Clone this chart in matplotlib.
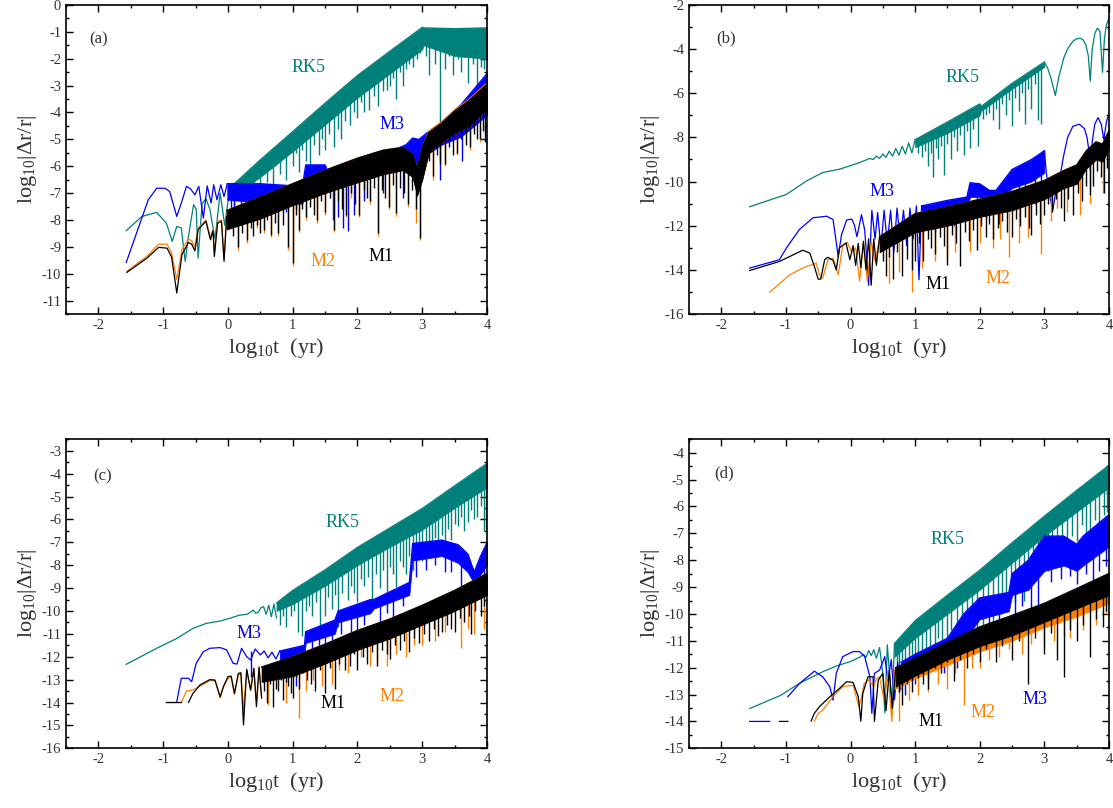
import numpy as np
import matplotlib
matplotlib.use("Agg")
import matplotlib.pyplot as plt
from matplotlib.ticker import MultipleLocator

plt.rcParams['font.family'] = ['Liberation Serif', 'DejaVu Serif']
plt.rcParams['mathtext.fontset'] = 'custom'
plt.rcParams['mathtext.rm'] = 'Liberation Serif'
plt.rcParams['axes.unicode_minus'] = False

nan = float('nan')
TEAL = '#00807a'
BLUE = '#0000ff'
ORANGE = '#ff8000'
BLACK = '#000000'

# ---------------- panel (a) ----------------
a_rk5_x = [-1.57, -1.33, -1.10, -0.95, -0.86, -0.79, -0.72, -0.66, -0.61, -0.53, -0.49, -0.46, -0.40, -0.34, -0.28, -0.20, -0.12, -0.05, 0.03]
a_rk5_y = [-8.40, -7.87, -7.72, -8.12, -8.80, -8.24, -8.30, -9.54, -8.61, -7.43, -7.60, -9.42, -7.40, -7.20, -7.60, -8.70, -7.00, -8.20, -6.80]
a_rk5_bx = [0.03, 0.5, 1.0, 1.5, 2.0, 2.5, 3.0, 3.02, 3.5, 4.0]
a_rk5_top = [-6.80, -5.76, -4.71, -3.65, -2.62, -1.72, -0.83, -0.85, -0.88, -0.85]
a_rk5_bot = [-7.20, -6.40, -5.45, -4.45, -3.45, -2.55, -1.65, -1.50, -1.90, -2.00]
a_rk5_sx = [0.1, 0.2, 0.3, 0.4, 0.5, 0.6, 0.7, 0.8, 0.9, 1.0, 1.05, 1.1, 1.15, 1.2, 1.27, 1.33, 1.4, 1.45, 1.5, 1.56,
            1.63, 1.7, 1.75, 1.8, 1.88, 1.95, 2.0, 2.05, 2.1, 2.18, 2.25, 2.32, 2.4, 2.45, 2.5, 2.55, 2.6, 2.66, 2.7, 2.75,
            2.8, 2.86, 2.92, 2.97, 3.05, 3.1, 3.15, 3.2, 3.28, 3.35, 3.42, 3.48, 3.55, 3.6, 3.65, 3.7, 3.78, 3.85, 3.9, 3.95]
a_rk5_sy = [-7.6, -7.3, -7.6, -7.0, -6.9, -6.6, -6.8, -6.3, -6.5, -6.0, -5.5, -6.2, -5.4, -5.8, -6.13, -5.2, -5.6, -5.0, -5.4, -4.8,
            -5.3, -4.6, -5.0, -4.3, -4.46, -4.0, -4.2, -3.6, -4.0, -3.9, -3.4, -3.75, -3.2, -3.16, -3.0, -2.7, -3.5, -2.5, -3.0, -2.4,
            -2.2, -2.3, -2.0, -1.8, -1.9, -2.6, -1.6, -2.2, -4.77, -2.4, -1.9, -2.6, -2.0, -2.5, -1.8, -2.9, -2.2, -3.1, -2.3, -2.4]

a_m3_x = [-1.57, -1.23, -1.10, -0.97, -0.90, -0.79, -0.72, -0.64, -0.58, -0.51, -0.45, -0.38, -0.32, -0.26, -0.22, -0.17, -0.11, -0.06, -0.01]
a_m3_y = [-9.58, -7.25, -6.82, -6.82, -6.94, -7.87, -7.37, -6.75, -6.84, -7.06, -6.75, -7.93, -6.73, -7.37, -6.69, -7.25, -6.69, -7.13, -6.65]
a_m3_bx = [-0.01, 0.5, 1.15, 1.2, 1.5, 1.55, 2.0, 2.5, 2.75, 2.85, 2.95, 3.05, 3.3, 3.6, 4.0]
a_m3_top = [-6.65, -6.65, -6.75, -5.95, -5.95, -6.3, -5.85, -5.45, -5.2, -4.95, -5.0, -4.8, -4.35, -3.7, -2.55]
a_m3_bot = [-7.25, -7.35, -7.4, -6.6, -6.6, -6.9, -6.6, -6.2, -6.0, -6.0, -6.4, -5.6, -5.2, -4.9, -4.1]
a_m3_sx = [0.05, 0.1, 0.2, 0.3, 0.45, 0.6, 0.75, 0.9, 1.05, 1.62, 1.7, 1.78, 1.86, 1.95, 2.1, 2.4, 2.7, 2.9, 3.28, 3.62, 4.0]
a_m3_sy = [-7.9, -7.6, -7.7, -7.8, -7.5, -7.6, -7.5, -7.7, -7.6, -8.0, -7.9, -8.3, -8.4, -7.8, -7.3, -7.0, -7.2, -6.8, -6.5, -5.8, -6.0]

a_m2_x = [-1.56, -1.25, -1.07, -0.94, -0.87, -0.79, -0.71, -0.61, -0.56, -0.51, -0.46, -0.34, -0.27, -0.23, -0.21, -0.16, -0.10, -0.06, -0.02]
a_m2_y = [-9.91, -9.35, -8.90, -8.90, -9.23, -10.22, -9.10, -8.70, -8.78, -9.00, -8.30, -8.00, -8.65, -8.35, -9.25, -8.05, -8.00, -9.45, -7.85]
a_m2_bx = [-0.02, 0.5, 1.0, 1.5, 2.0, 2.4, 2.7, 2.85, 2.92, 3.0, 3.1, 3.3, 3.5, 3.7, 4.0]
a_m2_top = [-7.65, -7.15, -6.65, -6.15, -5.70, -5.40, -5.30, -5.55, -6.10, -5.30, -4.70, -4.35, -3.90, -3.55, -2.90]
a_m2_bot = [-8.35, -7.95, -7.45, -7.00, -6.60, -6.30, -6.15, -6.40, -7.10, -6.50, -5.50, -5.10, -4.75, -4.55, -3.85]
a_m2_sx = [0.15, 0.29, 0.45, 0.55, 0.67, 0.78, 0.93, 1.0, 1.09, 1.2, 1.37, 1.5, 1.64, 1.83, 1.9, 2.03, 2.2, 2.31, 2.48, 2.6, 2.78, 2.9, 2.96, 3.17, 3.35, 3.53, 3.74, 3.89]
a_m2_sy = [-9.1, -8.85, -8.3, -8.5, -8.65, -8.6, -9.1, -9.7, -8.45, -8.0, -8.1, -7.8, -8.45, -7.9, -7.2, -7.9, -7.4, -8.6, -7.6, -7.85, -7.5, -8.1, -8.75, -6.5, -6.0, -5.6, -5.4, -5.1]

a_m1_x = [-1.56, -1.25, -1.07, -0.94, -0.87, -0.79, -0.71, -0.61, -0.56, -0.51, -0.46, -0.34, -0.27, -0.23, -0.21, -0.16, -0.10, -0.06, -0.02]
a_m1_y = [-9.95, -9.42, -9.02, -9.05, -9.38, -10.72, -9.29, -8.84, -8.90, -9.15, -8.36, -8.05, -8.74, -8.40, -9.36, -8.12, -8.05, -9.54, -7.87]
a_m1_bx = [-0.02, 0.5, 1.0, 1.5, 2.0, 2.4, 2.7, 2.85, 2.92, 3.0, 3.1, 3.3, 3.5, 3.7, 4.0]
a_m1_top = [-7.65, -7.15, -6.65, -6.15, -5.70, -5.40, -5.30, -5.55, -6.10, -5.30, -4.75, -4.40, -3.95, -3.60, -2.95]
a_m1_bot = [-8.35, -7.95, -7.45, -7.00, -6.60, -6.30, -6.15, -6.40, -7.10, -6.50, -5.50, -5.10, -4.75, -4.55, -3.85]
a_m1_sx = [0.08, 0.15, 0.22, 0.29, 0.35, 0.39, 0.45, 0.5, 0.55, 0.61, 0.67, 0.72, 0.78, 0.85, 0.93, 1.0, 1.05, 1.09, 1.15, 1.2,
           1.27, 1.33, 1.37, 1.44, 1.5, 1.57, 1.64, 1.7, 1.76, 1.83, 1.9, 1.96, 2.03, 2.1, 2.15, 2.2, 2.26, 2.31, 2.38, 2.43,
           2.48, 2.55, 2.6, 2.66, 2.72, 2.78, 2.84, 2.9, 2.96, 3.03, 3.1, 3.17, 3.22, 3.28, 3.35, 3.42, 3.48, 3.53, 3.6, 3.67,
           3.74, 3.8, 3.85, 3.89, 3.94, 3.97]
a_m1_sy = [-8.6, -9.0, -8.5, -8.74, -8.3, -8.6, -8.2, -8.5, -8.37, -8.0, -8.55, -8.1, -8.5, -8.2, -9.0, -9.6, -7.8, -8.36, -7.6, -7.9,
           -7.5, -7.8, -8.0, -7.3, -7.7, -7.2, -8.36, -7.3, -7.6, -7.8, -7.0, -7.4, -7.8, -6.9, -7.2, -7.3, -6.8, -8.49, -6.9, -7.2,
           -7.5, -6.7, -7.75, -6.8, -7.0, -7.4, -6.9, -7.6, -8.67, -6.0, -5.8, -6.38, -5.6, -5.9, -5.9, -5.3, -5.6, -5.5, -5.0, -5.2,
           -5.3, -4.8, -5.0, -5.0, -4.7, -5.1]

# ---------------- panel (b) ----------------
b_rk5_x = [-1.56, -0.99, -0.68, -0.43, -0.17, 0.14, 0.30, 0.35, 0.40, 0.45, 0.50, 0.55, 0.60, 0.65, 0.70, 0.75, 0.80, 0.85, 0.90, 0.95, 1.0,
           nan, 3.0, 3.05, 3.1, 3.17, 3.22, 3.3, 3.35, 3.4, 3.45, 3.5, 3.55, 3.6, 3.64, 3.68, 3.71, 3.74, 3.78, 3.82, 3.86, 3.9, 3.93, 3.96, 4.0]
b_rk5_y = [-11.14, -10.58, -9.97, -9.59, -9.44, -9.14, -8.95, -9.0, -8.85, -8.95, -8.75, -8.9, -8.62, -8.85, -8.5, -8.8, -8.4, -8.75, -8.25, -8.7, -8.1,
           nan, -4.6, -4.85, -5.3, -6.1, -5.3, -4.4, -4.05, -3.8, -3.62, -3.53, -3.5, -3.58, -3.8, -4.3, -5.45, -4.0, -3.3, -3.05, -3.2, -5.05, -3.5, -2.9, -2.6]
b_rk5_bx = [1.0, 1.5, 2.0, 2.02, 2.5, 3.0]
b_rk5_top = [-8.1, -7.3, -6.48, -6.6, -5.55, -4.58]
b_rk5_bot = [-8.45, -7.8, -7.0, -6.8, -5.8, -4.8]
b_rk5_sx = [1.05, 1.1, 1.15, 1.2, 1.24, 1.28, 1.32, 1.35, 1.4, 1.45, 1.5, 1.55, 1.6, 1.65, 1.7, 1.75, 1.8, 1.85, 1.9, 1.97,
            2.05, 2.1, 2.15, 2.2, 2.25, 2.3, 2.35, 2.4, 2.45, 2.5, 2.55, 2.6, 2.65, 2.7, 2.75, 2.8, 2.85, 2.9, 2.95]
b_rk5_sy = [-8.7, -8.9, -8.6, -9.3, -8.7, -9.8, -8.5, -9.0, -8.4, -9.7, -8.3, -9.0, -8.0, -8.6, -7.9, -8.8, -7.7, -8.5, -7.6, -8.4,
            -7.16, -7.0, -6.9, -7.2, -6.7, -7.62, -6.5, -7.0, -6.3, -7.47, -6.2, -6.8, -6.0, -7.39, -5.8, -6.7, -5.6, -7.2, -7.4]

b_m3_x = [-1.56, -1.10, -0.99, -0.79, -0.58, -0.37, -0.27, -0.24, -0.19, -0.14, -0.06, 0.02, 0.06, 0.10, 0.17, 0.22, 0.28, 0.33, 0.38, 0.42, 0.47, 0.52,
          0.57, 0.62, 0.67, 0.72, 0.77, 0.82, 0.87, 0.92, 0.97, 1.02, 1.06, 1.1,
          nan, 3.0, 3.03, 3.08, 3.13, 3.18, 3.24, 3.30, 3.36, 3.44, 3.54, 3.62, 3.66, 3.69, 3.71, 3.74, 3.78, 3.83, 3.88, 3.92, 3.96, 4.0]
b_m3_y = [-13.92, -13.54, -13.0, -12.17, -11.64, -11.57, -11.72, -12.34, -13.4, -12.42, -11.74, -11.7, -11.97, -12.5, -11.5, -12.2, -14.7, -11.3, -12.6, -11.4, -13.0, -11.3,
          -12.8, -11.3, -13.2, -11.2, -12.7, -11.3, -12.9, -11.2, -12.6, -11.1, -14.45, -11.1,
          nan, -8.6, -9.6, -10.6, -11.3, -10.4, -9.8, -8.8, -8.0, -7.5, -7.4, -7.6, -8.0, -8.6, -9.5, -8.2, -7.4, -7.1, -7.4, -8.1, -7.3, -6.9]
b_m3_bx = [1.1, 1.5, 1.8, 1.85, 2.0, 2.15, 2.25, 2.5, 2.8, 3.0]
b_m3_top = [-11.1, -10.85, -10.7, -10.05, -10.1, -10.4, -10.4, -9.45, -9.0, -8.6]
b_m3_bot = [-11.6, -11.4, -11.2, -10.7, -10.7, -11.0, -11.0, -10.3, -10.0, -9.6]
b_m3_sx = [1.15, 1.3, 1.4, 1.6, 1.7, 1.95, 2.1, 2.3, 2.4, 2.6, 2.7, 2.85, 2.95]
b_m3_sy = [-12.0, -12.3, -11.9, -12.0, -11.8, -11.5, -11.6, -11.9, -11.2, -11.3, -10.8, -11.0, -10.6]

b_m2_x = [-1.25, -0.94, -0.68, -0.53, -0.48, -0.43, -0.35, -0.27, -0.19, -0.12, -0.05, 0.02, 0.08, 0.14, 0.20, 0.26, 0.32, 0.38, 0.45]
b_m2_y = [-15.01, -14.22, -13.84, -13.70, -14.22, -14.37, -13.55, -13.47, -14.22, -12.9, -12.75, -13.2, -13.0, -14.5, -12.8, -14.5, -12.7, -13.6, -12.6]
b_m2_bx = [0.45, 1.0, 1.5, 2.0, 2.5, 3.0, 3.3, 3.5, 3.65, 3.8, 3.9, 4.0]
b_m2_top = [-12.5, -11.45, -11.15, -10.8, -10.45, -9.95, -9.5, -9.25, -8.6, -8.2, -8.3, -7.7]
b_m2_bot = [-13.2, -12.3, -12.0, -11.6, -11.3, -10.8, -10.3, -10.1, -9.4, -9.0, -9.1, -8.5]
b_m2_sx = [0.6, 0.75, 0.95, 1.1, 1.3, 1.5, 1.62, 1.85, 2.0, 2.2, 2.32, 2.45, 2.6, 2.75, 2.95, 3.1, 3.2, 3.35, 3.55, 3.7, 3.9]
b_m2_sy = [-14.6, -14.1, -15.0, -13.9, -13.6, -13.5, -13.2, -13.2, -12.8, -13.0, -12.6, -13.4, -12.8, -12.5, -13.3, -11.8, -11.2, -11.4, -11.5, -11.0, -10.5]

b_m1_x = [-1.56, -1.10, -0.74, -0.63, -0.56, -0.50, -0.46, -0.40, -0.35, -0.27, -0.22, -0.17, -0.07, -0.01, 0.04, 0.08, 0.12, 0.16, 0.20, 0.24, 0.28, 0.32, 0.36, 0.40, 0.45]
b_m1_y = [-14.03, -13.62, -13.11, -13.24, -13.84, -14.42, -14.42, -13.54, -13.43, -13.57, -14.0, -13.0, -12.78, -13.54, -12.9, -13.8, -12.8, -13.9, -12.7, -14.0, -12.6, -14.7, -12.6, -13.8, -12.5]
b_m1_bx = [0.45, 1.0, 1.5, 2.0, 2.5, 3.0, 3.3, 3.5, 3.65, 3.8, 3.9, 4.0]
b_m1_top = [-12.5, -11.45, -11.15, -10.8, -10.45, -9.95, -9.5, -9.25, -8.6, -8.2, -8.3, -7.7]
b_m1_bot = [-13.2, -12.3, -12.0, -11.6, -11.3, -10.8, -10.3, -10.1, -9.4, -9.0, -9.1, -8.5]
b_m1_sx = [0.5, 0.55, 0.6, 0.65, 0.72, 0.8, 0.88, 0.95, 1.0, 1.06, 1.12, 1.2, 1.25, 1.3, 1.38, 1.45, 1.5, 1.57, 1.63, 1.7,
           1.77, 1.83, 1.9, 1.95, 2.02, 2.1, 2.15, 2.2, 2.28, 2.35, 2.42, 2.5, 2.56, 2.63, 2.7, 2.76, 2.8, 2.87, 2.93, 3.0,
           3.06, 3.12, 3.18, 3.25, 3.3, 3.37, 3.45, 3.52, 3.58, 3.65, 3.7, 3.75, 3.82, 3.88, 3.92, 3.97]
b_m1_sy = [-13.6, -14.3, -13.4, -14.4, -13.2, -14.3, -13.5, -14.0, -13.6, -12.8, -13.6, -12.6, -13.0, -13.3, -12.5, -12.9, -13.8, -12.4, -12.8, -13.84,
           -12.3, -12.7, -12.2, -13.1, -12.0, -12.5, -11.9, -12.6, -12.1, -11.8, -12.3, -12.5, -11.7, -12.0, -11.6, -12.1, -12.4, -11.5, -11.9, -11.5,
           -11.0, -11.4, -10.8, -11.2, -11.8, -10.8, -11.5, -10.5, -10.9, -10.2, -10.6, -10.2, -9.5, -9.8, -10.5, -9.4]

# ---------------- panel (c) ----------------
c_rk5_x = [-1.57, -1.10, -0.79, -0.54, -0.33, -0.12, 0.03, 0.18, 0.29, 0.35, 0.39, 0.43, 0.47, 0.51, 0.55, 0.59, 0.63, 0.67, 0.71, 0.75]
c_rk5_y = [-12.33, -11.63, -11.20, -10.76, -10.54, -10.44, -10.32, -10.18, -10.15, -10.05, -9.96, -10.1, -10.05, -9.85, -9.81, -10.15, -9.75, -10.25, -9.7, -10.3]
c_rk5_bx = [0.75, 1.0, 1.5, 2.0, 2.5, 3.0, 3.5, 4.0]
c_rk5_top = [-9.65, -9.1, -8.2, -7.22, -6.37, -5.52, -4.53, -3.55]
c_rk5_bot = [-10.0, -9.7, -8.9, -8.0, -7.2, -6.45, -5.5, -4.6]
c_rk5_sx = [0.8, 0.85, 0.9, 0.97, 1.02, 1.08, 1.15, 1.2, 1.25, 1.3, 1.36, 1.42, 1.5, 1.55, 1.6, 1.66, 1.7, 1.76, 1.85, 1.9,
            1.95, 2.0, 2.05, 2.1, 2.16, 2.22, 2.28, 2.35, 2.4, 2.45, 2.5, 2.55, 2.6, 2.66, 2.7, 2.75, 2.8, 2.85, 2.9, 2.95,
            3.0, 3.05, 3.1, 3.15, 3.2, 3.25, 3.3, 3.35, 3.4, 3.45, 3.5, 3.55, 3.6, 3.65, 3.7, 3.75, 3.8, 3.85, 3.9, 3.95, 3.99]
c_rk5_sy = [-10.6, -10.2, -10.7, -10.2, -10.0, -10.9, -11.1, -10.0, -9.8, -10.2, -9.6, -10.6, -10.2, -9.4, -9.9, -9.3, -10.7, -9.2, -9.5, -8.9,
            -9.2, -9.6, -8.6, -8.9, -8.5, -9.96, -8.4, -9.0, -8.2, -9.5, -8.1, -8.4, -8.94, -7.8, -8.1, -8.4, -7.6, -8.2, -7.4, -7.7,
            -7.8, -7.0, -7.05, -7.3, -6.8, -7.4, -6.7, -7.2, -6.4, -6.9, -6.2, -6.3, -5.9, -6.5, -6.1, -5.6, -6.0, -5.9, -5.4, -6.5, -6.4]

c_m3_x = [-0.79, -0.72, -0.61, -0.56, -0.49, -0.38, -0.28, -0.12, -0.02, 0.08, 0.14, 0.21, 0.29, 0.35, 0.42, 0.50, 0.56, 0.62, 0.68, 0.74, 0.80]
c_m3_y = [-13.96, -12.94, -12.94, -13.09, -12.29, -11.78, -11.63, -11.60, -11.70, -12.29, -12.32, -11.63, -12.0, -12.14, -11.66, -11.92, -11.75, -12.05, -11.8, -12.1, -11.75]
c_m3_bx = [0.8, 1.18, 1.2, 1.65, 1.7, 2.2, 2.25, 2.8, 2.85, 3.3, 3.55, 3.7, 3.8, 3.9, 4.0]
c_m3_top = [-11.75, -11.5, -10.9, -10.4, -10.0, -9.5, -9.5, -8.75, -7.05, -6.9, -7.1, -7.5, -8.3, -7.6, -7.0]
c_m3_bot = [-12.2, -12.0, -11.4, -11.0, -10.5, -10.1, -9.9, -9.3, -7.8, -7.6, -7.9, -8.3, -8.8, -8.4, -8.0]
c_m3_sx = [0.35, 0.9, 1.05, 1.3, 1.4, 1.5, 1.6, 1.75, 1.9, 2.0, 2.1, 2.35, 2.45, 2.55, 2.7, 2.9, 3.05, 3.2, 3.35, 3.45, 3.6, 3.95]
c_m3_sy = [-12.9, -12.6, -13.3, -12.4, -11.8, -11.8, -11.5, -11.0, -11.3, -10.9, -10.6, -10.5, -10.1, -10.8, -9.8, -8.5, -8.2, -8.0, -8.3, -8.3, -8.94, -8.6]

c_m2_x = [-0.95, -0.72, -0.64, -0.54, -0.43, -0.28, -0.20, -0.12, -0.07, 0.0, 0.05, 0.10, 0.16, 0.20, 0.24, 0.29, 0.35, 0.40, 0.44, 0.48, 0.52]
c_m2_y = [-14.0, -14.0, -13.5, -13.45, -13.28, -13.05, -13.05, -13.8, -13.35, -12.95, -12.9, -13.65, -12.8, -12.75, -14.3, -12.6, -13.5, -12.55, -14.0, -12.5, -13.8]
c_m2_bx = [0.52, 1.0, 1.5, 2.0, 2.5, 3.0, 3.5, 4.0]
c_m2_top = [-12.45, -12.0, -11.45, -10.85, -10.35, -9.75, -9.1, -8.36]
c_m2_bot = [-13.1, -12.85, -12.3, -11.7, -11.2, -10.6, -10.0, -9.3]
c_m2_sx = [0.62, 0.9, 1.1, 1.2, 1.32, 1.45, 1.6, 1.72, 1.85, 2.05, 2.2, 2.3, 2.45, 2.6, 2.75, 2.88, 3.0, 3.2, 3.35, 3.6, 3.7, 3.8, 3.95]
c_m2_sy = [-14.1, -14.0, -14.69, -13.5, -13.0, -13.3, -13.2, -12.6, -12.7, -12.0, -12.4, -12.2, -12.4, -11.9, -12.0, -11.5, -11.5, -11.3, -10.9, -11.6, -10.8, -11.0, -10.8]

c_m1_x = [-0.95, -0.72, nan, -0.61, -0.54, -0.43, -0.28, -0.20, -0.12, -0.07, 0.0, 0.05, 0.10, 0.16, 0.20, 0.24, 0.29, 0.35, 0.40, 0.44, 0.48, 0.52]
c_m1_y = [-14.0, -14.0, nan, -14.0, -13.6, -13.23, -13.0, -13.02, -13.75, -13.3, -12.87, -12.85, -13.6, -12.73, -12.7, -14.98, -12.55, -13.45, -12.5, -14.18, -12.45, -13.8]
c_m1_bx = [0.52, 1.0, 1.5, 2.0, 2.5, 3.0, 3.5, 4.0]
c_m1_top = [-12.45, -12.0, -11.45, -10.85, -10.35, -9.75, -9.1, -8.36]
c_m1_bot = [-13.1, -12.85, -12.3, -11.7, -11.2, -10.6, -10.0, -9.3]
c_m1_sx = [0.56, 0.6, 0.65, 0.7, 0.74, 0.78, 0.82, 0.85, 0.89, 0.93, 0.97, 1.0, 1.05, 1.1, 1.16, 1.22, 1.28, 1.35, 1.42, 1.5,
           1.57, 1.65, 1.72, 1.8, 1.88, 1.95, 2.0, 2.08, 2.15, 2.22, 2.3, 2.38, 2.45, 2.5, 2.58, 2.65, 2.72, 2.8, 2.88, 2.95,
           3.02, 3.1, 3.18, 3.25, 3.3, 3.38, 3.45, 3.5, 3.58, 3.65, 3.72, 3.75, 3.82, 3.9, 3.96]
c_m1_sy = [-13.5, -14.0, -13.2, -14.2, -13.4, -13.5, -13.0, -13.9, -13.1, -13.3, -13.6, -13.8, -12.9, -13.4, -12.7, -13.0, -13.2, -13.5, -12.6, -13.6,
           -12.5, -13.4, -12.3, -12.6, -12.4, -11.9, -12.6, -12.0, -12.3, -11.8, -12.4, -11.7, -11.9, -12.1, -11.5, -11.7, -11.3, -11.8, -11.2, -11.4,
           -11.0, -11.3, -10.8, -11.1, -10.9, -10.6, -10.8, -10.9, -10.3, -10.5, -10.2, -11.0, -10.0, -10.2, -9.8]

# ---------------- panel (d) ----------------
d_rk5_x = [-1.56, -1.09, -0.78, -0.42, -0.21, 0.0, 0.15, 0.20, 0.24, 0.28, 0.32, 0.36, 0.40, 0.45, 0.50, 0.53, 0.57, 0.62, 0.64, 0.68]
d_rk5_y = [-13.52, -13.04, -12.57, -12.14, -11.93, -11.77, -11.6, -11.5, -11.62, -11.36, -11.55, -11.33, -11.65, -11.25, -12.2, -13.67, -11.15, -12.8, -13.7, -11.1]
d_rk5_bx = [0.68, 1.0, 1.5, 2.0, 2.5, 3.0, 3.5, 4.0]
d_rk5_top = [-11.1, -10.25, -9.3, -8.37, -7.35, -6.36, -5.4, -4.46]
d_rk5_bot = [-11.6, -10.9, -10.0, -9.1, -8.1, -7.1, -6.2, -5.3]
d_rk5_sx = [0.72, 0.75, 0.8, 0.85, 0.9, 0.95, 1.0, 1.05, 1.1, 1.17, 1.23, 1.3, 1.36, 1.42, 1.5, 1.56, 1.65, 1.72, 1.8, 1.88,
            1.95, 2.05, 2.12, 2.2, 2.28, 2.35, 2.4, 2.48, 2.55, 2.6, 2.68, 2.75, 2.82, 2.9, 2.97, 3.05, 3.12, 3.2, 3.27, 3.35,
            3.42, 3.5, 3.58, 3.65, 3.7, 3.78, 3.85, 3.92, 3.97]
d_rk5_sy = [-12.3, -12.9, -11.9, -12.4, -11.7, -12.5, -11.6, -12.0, -11.4, -12.0, -11.2, -11.8, -10.9, -11.3, -11.5, -10.6, -11.6, -10.4, -11.1, -10.3,
            -11.3, -10.5, -9.8, -10.3, -9.6, -10.0, -9.8, -9.2, -9.6, -9.0, -9.5, -9.1, -8.6, -8.6, -8.1, -8.4, -7.8, -8.0, -7.5, -7.5,
            -7.1, -7.3, -6.7, -7.2, -7.0, -6.5, -6.6, -6.3, -6.2]

d_m3_x = [-1.56, -1.25, nan, -0.97, -0.79, -0.56, -0.43, -0.32, -0.27, -0.22, -0.12, 0.04, 0.14, 0.22, 0.30, 0.33, 0.37, 0.45, 0.53, 0.58, 0.63, 0.68, 0.73, 0.78]
d_m3_y = [-14.0, -14.0, nan, -13.08, -12.59, -12.13, -12.34, -12.71, -13.21, -12.21, -11.59, -11.4, -11.4, -11.59, -12.34, -13.7, -12.21, -12.09, -11.59, -12.5, -11.7, -13.2, -11.8, -12.8]
d_m3_bx = [0.78, 1.0, 1.5, 1.75, 2.0, 2.45, 2.5, 2.75, 3.0, 3.3, 3.5, 3.6, 4.0]
d_m3_top = [-11.8, -11.5, -10.9, -10.0, -9.4, -9.2, -8.5, -8.0, -7.1, -7.1, -7.4, -7.1, -6.3]
d_m3_bot = [-12.4, -12.1, -11.6, -11.0, -10.2, -9.9, -9.3, -9.1, -8.4, -8.2, -8.4, -8.2, -7.5]
d_m3_sx = [0.85, 1.0, 1.2, 1.45, 1.65, 1.9, 2.15, 2.3, 2.55, 2.65, 2.8, 2.9, 3.1, 3.25, 3.4, 3.5, 3.65, 3.75, 3.85, 3.95]
d_m3_sy = [-13.0, -12.6, -12.4, -12.2, -12.0, -11.2, -11.0, -10.8, -10.0, -9.7, -9.9, -9.8, -8.8, -8.7, -8.6, -8.9, -8.5, -9.0, -8.4, -8.2]

d_m2_x = [-0.56, -0.50, -0.43, -0.27, -0.12, 0.04, 0.13, 0.17, 0.21, 0.28, 0.36, 0.40, 0.45, 0.52, 0.58, 0.64, 0.68]
d_m2_y = [-14.0, -13.7, -13.58, -13.08, -12.71, -12.65, -13.45, -13.1, -12.6, -12.45, -12.7, -12.4, -12.35, -13.2, -12.2, -14.0, -12.1]
d_m2_bx = [0.68, 1.0, 1.5, 2.0, 2.5, 3.0, 3.5, 4.0]
d_m2_top = [-12.1, -11.8, -11.2, -10.6, -10.15, -9.75, -9.3, -8.8]
d_m2_bot = [-12.8, -12.4, -11.9, -11.4, -11.0, -10.5, -10.1, -9.6]
d_m2_sx = [0.75, 0.9, 1.05, 1.2, 1.35, 1.5, 1.62, 1.75, 1.88, 2.0, 2.15, 2.3, 2.45, 2.65, 2.8, 3.0, 3.15, 3.3, 3.4, 3.6, 3.8, 3.95]
d_m2_sy = [-14.0, -13.2, -13.0, -12.9, -12.6, -12.8, -12.2, -13.39, -12.0, -12.0, -11.7, -11.6, -11.3, -11.5, -11.1, -11.2, -11.0, -10.8, -10.9, -10.6, -10.4, -10.0]

d_m1_x = [-1.1, -0.97, nan, -0.61, -0.56, -0.48, -0.32, -0.17, -0.06, 0.04, 0.12, 0.16, 0.19, 0.27, 0.35, 0.37, 0.43, 0.50, 0.55, 0.60, 0.65, 0.70]
d_m1_y = [-14.0, -14.0, nan, -13.99, -13.7, -13.45, -13.08, -12.77, -12.52, -12.55, -13.08, -13.99, -12.96, -12.34, -12.34, -14.0, -12.46, -12.21, -13.6, -12.1, -13.5, -12.0]
d_m1_bx = [0.70, 1.0, 1.5, 2.0, 2.5, 3.0, 3.5, 4.0]
d_m1_top = [-12.0, -11.65, -11.05, -10.48, -10.05, -9.6, -9.05, -8.49]
d_m1_bot = [-12.7, -12.3, -11.7, -11.2, -10.8, -10.3, -9.8, -9.3]
d_m1_sx = [0.75, 0.8, 0.88, 0.95, 1.05, 1.12, 1.2, 1.3, 1.4, 1.5, 1.6, 1.7, 1.8, 1.9, 2.0, 2.1, 2.25, 2.35, 2.5, 2.6,
           2.75, 2.85, 3.0, 3.1, 3.2, 3.3, 3.4, 3.5, 3.6, 3.7, 3.8, 3.9, 3.96]
d_m1_sy = [-12.9, -13.4, -12.6, -12.9, -12.4, -12.6, -12.8, -12.0, -12.2, -11.8, -12.5, -11.7, -12.0, -11.5, -11.8, -11.3, -11.8, -11.2, -11.7, -11.0,
           -12.62, -10.9, -11.5, -10.7, -11.7, -12.34, -10.6, -11.0, -10.4, -11.6, -10.2, -10.5, -9.9]

# label positions (x, y) in data units for every panel
a_labels = [('RK5', 1.24, -2.34, TEAL), ('M3', 2.54, -4.46, BLUE), ('M2', 1.46, -9.56, ORANGE), ('M1', 2.37, -9.36, BLACK)]
b_labels = [('RK5', 1.74, -5.3, TEAL), ('M3', 0.48, -10.47, BLUE), ('M1', 1.35, -14.65, BLACK), ('M2', 2.28, -14.37, ORANGE)]
c_labels = [('RK5', 1.77, -6.14, TEAL), ('M3', 0.33, -11.0, BLUE), ('M1', 1.62, -14.04, BLACK), ('M2', 2.54, -13.74, ORANGE)]
d_labels = [('RK5', 1.5, -7.23, TEAL), ('M3', 2.85, -13.2, BLUE), ('M2', 2.05, -13.68, ORANGE), ('M1', 1.24, -14.01, BLACK)]


def draw_curve(ax, color, z, lx, ly, bx, btop, bbot, sx, sy):
    # every piece of one curve shares a zorder so later curves sit on top
    ax.plot(lx, ly, color=color, lw=0.9, zorder=z)
    ax.fill_between(bx, bbot, btop, color=color, lw=0.5, edgecolor=color, zorder=z)
    ax.plot(bx, btop, color=color, lw=0.9, zorder=z)
    ax.vlines(sx, sy, np.interp(sx, bx, btop), color=color, lw=1.0, zorder=z)


def style_axes(ax, ylim, ystep, tag, tagpos, labels):
    ax.set_xlim(-2.5, 4)
    ax.set_ylim(*ylim)
    ax.xaxis.set_major_locator(MultipleLocator(1))
    ax.xaxis.set_minor_locator(MultipleLocator(0.5))
    ax.yaxis.set_major_locator(MultipleLocator(ystep))
    ax.yaxis.set_minor_locator(MultipleLocator(ystep / 2))
    ax.tick_params(which='both', direction='in', top=True, right=True,
                   labelsize=10.5, labelcolor='#333333', width=1.0)
    ax.tick_params(which='major', length=5)
    ax.tick_params(which='minor', length=2.5)
    for s in ax.spines.values():
        s.set_linewidth(1.2)
        s.set_zorder(10)
    ax.set_xlabel(r'log$\mathregular{_{10}}$t  (yr)', fontsize=16, color='#333333', labelpad=3)
    ax.set_ylabel(r'log$\mathregular{_{10}}$|Δr/r|', fontsize=16, color='#333333', labelpad=2)
    ax.text(tagpos[0], tagpos[1], tag, fontsize=12, color='#333333', ha='center', va='center', zorder=11)
    for name, x, y, c in labels:
        ax.text(x, y, name, fontsize=13, color=c, ha='center', va='center', zorder=11)


fig = plt.figure(figsize=(11.13, 8.08), dpi=100)
ax_a = fig.add_axes([0.0593, 0.6114, 0.3783, 0.3824])
ax_b = fig.add_axes([0.6190, 0.6114, 0.3774, 0.3824])
ax_c = fig.add_axes([0.0593, 0.0739, 0.3783, 0.3824])
ax_d = fig.add_axes([0.6190, 0.0739, 0.3774, 0.3824])

draw_curve(ax_a, TEAL, 2, a_rk5_x, a_rk5_y, a_rk5_bx, a_rk5_top, a_rk5_bot, a_rk5_sx, a_rk5_sy)
draw_curve(ax_a, BLUE, 3, a_m3_x, a_m3_y, a_m3_bx, a_m3_top, a_m3_bot, a_m3_sx, a_m3_sy)
draw_curve(ax_a, ORANGE, 4, a_m2_x, a_m2_y, a_m2_bx, a_m2_top, a_m2_bot, a_m2_sx, a_m2_sy)
draw_curve(ax_a, BLACK, 5, a_m1_x, a_m1_y, a_m1_bx, a_m1_top, a_m1_bot, a_m1_sx, a_m1_sy)
style_axes(ax_a, (-11.5, 0), 1, '(a)', (-2.0, -1.27), a_labels)

draw_curve(ax_b, TEAL, 2, b_rk5_x, b_rk5_y, b_rk5_bx, b_rk5_top, b_rk5_bot, b_rk5_sx, b_rk5_sy)
draw_curve(ax_b, BLUE, 3, b_m3_x, b_m3_y, b_m3_bx, b_m3_top, b_m3_bot, b_m3_sx, b_m3_sy)
draw_curve(ax_b, ORANGE, 4, b_m2_x, b_m2_y, b_m2_bx, b_m2_top, b_m2_bot, b_m2_sx, b_m2_sy)
draw_curve(ax_b, BLACK, 5, b_m1_x, b_m1_y, b_m1_bx, b_m1_top, b_m1_bot, b_m1_sx, b_m1_sy)
style_axes(ax_b, (-16, -2), 2, '(b)', (-1.93, -3.49), b_labels)

draw_curve(ax_c, TEAL, 2, c_rk5_x, c_rk5_y, c_rk5_bx, c_rk5_top, c_rk5_bot, c_rk5_sx, c_rk5_sy)
draw_curve(ax_c, BLUE, 3, c_m3_x, c_m3_y, c_m3_bx, c_m3_top, c_m3_bot, c_m3_sx, c_m3_sy)
draw_curve(ax_c, ORANGE, 4, c_m2_x, c_m2_y, c_m2_bx, c_m2_top, c_m2_bot, c_m2_sx, c_m2_sy)
draw_curve(ax_c, BLACK, 5, c_m1_x, c_m1_y, c_m1_bx, c_m1_top, c_m1_bot, c_m1_sx, c_m1_sy)
style_axes(ax_c, (-16, -2.5), 1, '(c)', (-1.93, -4.1), c_labels)

draw_curve(ax_d, TEAL, 2, d_rk5_x, d_rk5_y, d_rk5_bx, d_rk5_top, d_rk5_bot, d_rk5_sx, d_rk5_sy)
draw_curve(ax_d, BLUE, 3, d_m3_x, d_m3_y, d_m3_bx, d_m3_top, d_m3_bot, d_m3_sx, d_m3_sy)
draw_curve(ax_d, ORANGE, 4, d_m2_x, d_m2_y, d_m2_bx, d_m2_top, d_m2_bot, d_m2_sx, d_m2_sy)
draw_curve(ax_d, BLACK, 5, d_m1_x, d_m1_y, d_m1_bx, d_m1_top, d_m1_bot, d_m1_sx, d_m1_sy)
style_axes(ax_d, (-15, -3.5), 1, '(d)', (-1.95, -4.77), d_labels)

fig.savefig('out.png', dpi=100)
